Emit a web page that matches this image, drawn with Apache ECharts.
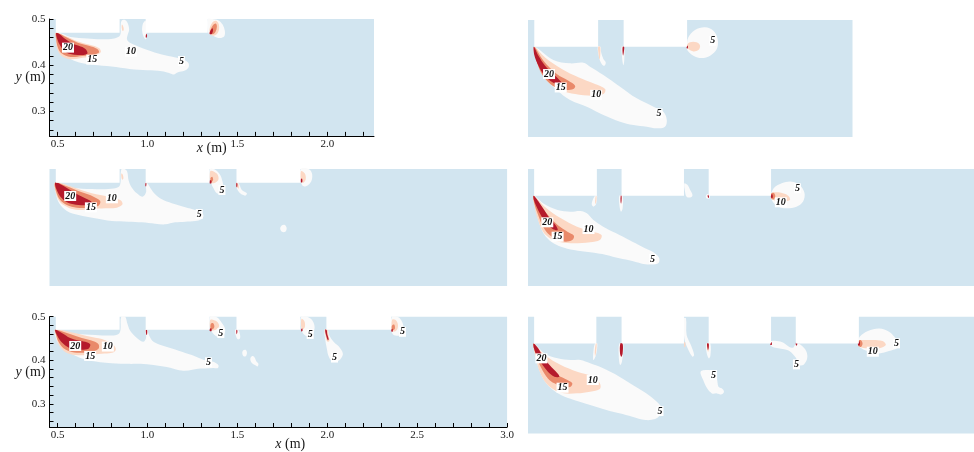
<!DOCTYPE html>
<html>
<head>
<meta charset="utf-8">
<script src="https://cdn.jsdelivr.net/npm/echarts@6/dist/echarts.min.js"></script>
<style>
  html, body { margin: 0; padding: 0; background: #fff; }
  #main { width: 974px; height: 452px; }
</style>
</head>
<body>
<div id="main"></div>
<script>
// ---- axis ticks and labels ----
const yTicks = [0.26, 0.28, 0.30, 0.32, 0.34, 0.36, 0.38, 0.40, 0.42, 0.44, 0.46, 0.48, 0.50];
const yTickLabels = [0.3, 0.4, 0.5];
const xTicksShort = [0.5, 0.6, 0.7, 0.8, 0.9, 1.0, 1.1, 1.2, 1.3, 1.4, 1.5, 1.6, 1.7, 1.8, 1.9, 2.0, 2.1, 2.2];
const xTickLabelsShort = [0.5, 1.0, 1.5, 2.0];
const xTicksLong = [0.5, 0.6, 0.7, 0.8, 0.9, 1.0, 1.1, 1.2, 1.3, 1.4, 1.5, 1.6, 1.7, 1.8, 1.9, 2.0,
                    2.1, 2.2, 2.3, 2.4, 2.5, 2.6, 2.7, 2.8, 2.9, 3.0];
const xTickLabelsLong = [0.5, 1.0, 1.5, 2.0, 2.5, 3.0];

// ---- lid segments [x start, x end] (m) ----
const p1Walls = [[0.49, 0.845], [0.99, 1.335]];
const p2Walls = [[0.49, 0.845], [0.987, 1.34]];
const p3Walls = [[0.49, 0.845], [0.99, 1.345], [1.495, 1.85]];
const p4Walls = [[0.49, 0.848], [0.989, 1.345], [1.486, 1.842]];
const p5Walls = [[0.49, 0.845], [0.99, 1.345], [1.495, 1.85], [1.995, 2.355]];
const p6Walls = [[0.49, 0.845], [0.989, 1.345], [1.486, 1.842], [1.983, 2.343]];

// ---- panel 1 contour bands (>5, >10, >15, >20) ----
const p1Band5 = [
  [[0.494,0.47],[0.497,0.452],[0.52,0.432],[0.56,0.416],[0.62,0.406],[0.70,0.401],[0.80,0.397],[0.90,0.392],[1.0,0.389],[1.08,0.387],[1.12,0.383],[1.145,0.380],[1.17,0.385],[1.205,0.388],[1.228,0.395],[1.228,0.405],[1.2,0.412],[1.15,0.417],[1.08,0.423],[1.0,0.433],[0.945,0.441],[0.9,0.449],[0.886,0.456],[0.89,0.466],[0.898,0.477],[0.89,0.491],[0.875,0.498],[0.856,0.496],[0.851,0.483],[0.848,0.465],[0.815,0.458],[0.74,0.456],[0.665,0.458],[0.571,0.461],[0.524,0.468]],
  [[0.99,0.496],[0.975,0.49],[0.97,0.475],[0.978,0.462],[0.99,0.456],[0.995,0.46]],
  [[1.335,0.5],[1.36,0.5],[1.395,0.497],[1.418,0.488],[1.43,0.475],[1.428,0.463],[1.41,0.459],[1.385,0.46],[1.36,0.465],[1.338,0.47]]
];
const p1Band10 = [
  [[0.49,0.47],[0.54,0.464],[0.61,0.452],[0.68,0.444],[0.73,0.437],[0.74,0.428],[0.70,0.420],[0.64,0.416],[0.57,0.413],[0.52,0.421],[0.497,0.436],[0.49,0.457]],
  [[0.858,0.488],[0.865,0.484],[0.868,0.476],[0.862,0.474],[0.857,0.48]],
  [[1.345,0.478],[1.36,0.492],[1.38,0.496],[1.395,0.49],[1.398,0.478],[1.385,0.467],[1.365,0.464],[1.348,0.468]]
];
const p1Band15 = [
  [[0.4925,0.47],[0.543,0.4616],[0.609,0.4493],[0.674,0.442],[0.721,0.435],[0.730,0.4275],[0.693,0.4225],[0.637,0.420],[0.571,0.418],[0.524,0.4254],[0.502,0.438],[0.492,0.4565]],
  [[1.35,0.474],[1.365,0.487],[1.38,0.49],[1.386,0.483],[1.378,0.472],[1.362,0.467]]
];
const p1Band20 = [
  [[0.4925,0.47],[0.515,0.466],[0.543,0.4565],[0.581,0.447],[0.618,0.442],[0.655,0.435],[0.665,0.425],[0.618,0.422],[0.571,0.424],[0.543,0.429],[0.515,0.442],[0.498,0.4565]],
  [[0.994,0.468],[0.99,0.462],[0.993,0.459],[0.998,0.463]],
  [[1.345,0.468],[1.352,0.476],[1.362,0.48],[1.364,0.474],[1.356,0.467]]
];
const p1Labels = [[0.558,0.438,'20'],[0.693,0.412,'15'],[0.908,0.429,'10'],[1.189,0.409,'5']];

// ---- panel 2 ----
const p2Band5 = [
  [[0.49,0.442],[0.596,0.4134],[0.689,0.4062],[0.763,0.4076],[0.800,0.399],[0.8745,0.381],[0.967,0.3557],[1.060,0.3304],[1.153,0.3124],[1.208,0.3016],[1.227,0.2835],[1.217,0.2691],[1.171,0.2655],[1.1155,0.2691],[1.041,0.2727],[0.967,0.280],[0.8745,0.2944],[0.782,0.3124],[0.689,0.3268],[0.615,0.3485],[0.559,0.370],[0.513,0.399],[0.489,0.4278]],
  [[0.843,0.442],[0.8504,0.419],[0.865,0.4048],[0.880,0.401],[0.8875,0.408],[0.8745,0.4156],[0.8615,0.430],[0.8578,0.442]],
  [[0.976,0.442],[0.978,0.42],[0.985,0.402],[0.99,0.41],[0.99,0.442]],
  [[1.338,0.441],[1.347,0.4625],[1.384,0.4784],[1.440,0.4841],[1.486,0.4769],[1.510,0.4589],[1.505,0.4372],[1.468,0.4228],[1.421,0.4177],[1.375,0.4228],[1.3435,0.4336]]
];
const p2Band10 = [
  [[0.49,0.442],[0.550,0.419],[0.643,0.394],[0.735,0.376],[0.828,0.3615],[0.884,0.3507],[0.8745,0.3398],[0.8096,0.3362],[0.717,0.3398],[0.643,0.347],[0.578,0.3615],[0.5315,0.3831],[0.504,0.412]],
  [[0.845,0.442],[0.848,0.425],[0.853,0.415],[0.857,0.425],[0.856,0.442]],
  [[1.338,0.4444],[1.356,0.4516],[1.393,0.4516],[1.412,0.4444],[1.403,0.435],[1.375,0.432],[1.347,0.437]]
];
const p2Band15 = [
  [[0.49,0.442],[0.541,0.412],[0.615,0.3831],[0.680,0.3687],[0.717,0.3579],[0.7076,0.3506],[0.661,0.3485],[0.615,0.3528],[0.569,0.365],[0.5223,0.3903],[0.498,0.4192]]
];
const p2Band20 = [
  [[0.487,0.442],[0.513,0.4228],[0.550,0.4012],[0.5964,0.3831],[0.6335,0.3687],[0.643,0.3615],[0.615,0.3615],[0.578,0.3687],[0.541,0.3831],[0.513,0.4012],[0.491,0.4228]],
  [[0.982,0.442],[0.981,0.43],[0.984,0.423],[0.988,0.43],[0.99,0.442]],
  [[1.338,0.444],[1.338,0.439],[1.344,0.439],[1.344,0.444]]
];
const p2Labels = [[0.572,0.383,'20'],[0.637,0.354,'15'],[0.834,0.338,'10'],[1.184,0.298,'5'],[1.483,0.455,'5']];

// ---- panel 3 ----
const p3Band5 = [
  [[0.4867,0.47],[0.5145,0.4668],[0.5794,0.4596],[0.6906,0.4567],[0.7832,0.4567],[0.8389,0.461],[0.850,0.47],[0.8537,0.4986],[0.8722,0.5],[0.8871,0.4942],[0.8945,0.4762],[0.9093,0.4618],[0.9408,0.4473],[0.9724,0.4401],[0.9927,0.4509],[0.987,0.4711],[0.9965,0.47],[1.015,0.4596],[1.0427,0.4452],[1.0798,0.4343],[1.1354,0.4257],[1.2096,0.417],[1.2652,0.4113],[1.2986,0.4062],[1.3116,0.399],[1.2986,0.391],[1.2652,0.3874],[1.2096,0.386],[1.1539,0.3846],[1.0983,0.3802],[1.0427,0.3817],[0.9687,0.3846],[0.8945,0.386],[0.8018,0.3874],[0.7091,0.3932],[0.6164,0.4004],[0.5516,0.4091],[0.5089,0.4257],[0.4904,0.4473]],
  [[1.738,0.371],[1.748,0.378],[1.764,0.379],[1.774,0.372],[1.766,0.364],[1.748,0.364]],
  [[1.347,0.5],[1.3765,0.4986],[1.4043,0.487],[1.4173,0.4726],[1.4228,0.4582],[1.4136,0.4473],[1.3857,0.4473],[1.3672,0.4582],[1.3543,0.4704]],
  [[1.4933,0.47],[1.497,0.4582],[1.5155,0.4473],[1.5433,0.4423],[1.5526,0.4473],[1.5248,0.4545],[1.5063,0.469]],
  [[1.853,0.5],[1.8956,0.5],[1.914,0.4913],[1.914,0.4769],[1.8956,0.4661],[1.8678,0.4625],[1.853,0.4726]]
];
const p3Band10 = [
  [[0.4867,0.47],[0.5794,0.4618],[0.6906,0.4473],[0.7832,0.4401],[0.8481,0.4329],[0.8611,0.4235],[0.8296,0.4163],[0.7647,0.4149],[0.6906,0.4134],[0.6164,0.4113],[0.5608,0.4163],[0.5145,0.4278],[0.4904,0.4473]],
  [[0.855,0.49],[0.862,0.488],[0.866,0.48],[0.86,0.477],[0.855,0.482]],
  [[1.35,0.4957],[1.3857,0.49],[1.395,0.4776],[1.3765,0.4704],[1.35,0.4704]],
  [[1.494,0.47],[1.5,0.46],[1.508,0.458],[1.505,0.468]],
  [[1.853,0.495],[1.875,0.49],[1.88,0.478],[1.865,0.47],[1.853,0.475]]
];
const p3Band15 = [
  [[0.4867,0.47],[0.5423,0.4639],[0.635,0.4495],[0.700,0.4401],[0.737,0.4307],[0.7276,0.4206],[0.672,0.4163],[0.6072,0.4163],[0.5516,0.4221],[0.5145,0.4329],[0.4922,0.4509]],
  [[1.35,0.48],[1.36,0.483],[1.365,0.476],[1.355,0.472]]
];
const p3Band20 = [
  [[0.4867,0.47],[0.5237,0.4654],[0.570,0.4545],[0.6164,0.4437],[0.6628,0.4351],[0.6906,0.4278],[0.672,0.4221],[0.6164,0.4221],[0.5608,0.4264],[0.5237,0.4365],[0.4978,0.4524]],
  [[0.99,0.47],[0.988,0.464],[0.992,0.462],[0.994,0.469]],
  [[1.346,0.475],[1.355,0.475],[1.355,0.469],[1.346,0.469]],
  [[1.495,0.47],[1.494,0.462],[1.498,0.46],[1.5,0.468]],
  [[1.853,0.478],[1.86,0.479],[1.861,0.472],[1.854,0.471]]
];
const p3Labels = [[0.570,0.4416,'20'],[0.6852,0.417,'15'],[0.8018,0.4365,'10'],[1.2875,0.4026,'5'],[1.414,0.4545,'5']];

// ---- panel 4 ----
const p4Band5 = [
  [[0.487,0.442],[0.550,0.4235],[0.624,0.4113],[0.698,0.4076],[0.754,0.4091],[0.791,0.404],[0.828,0.3896],[0.884,0.3752],[0.958,0.3608],[1.032,0.3463],[1.106,0.3319],[1.171,0.3196],[1.2026,0.308],[1.2026,0.298],[1.1897,0.2943],[1.1248,0.2937],[1.0506,0.3009],[0.9765,0.3066],[0.9023,0.3139],[0.8096,0.3196],[0.717,0.3247],[0.643,0.3319],[0.587,0.3427],[0.55,0.3571],[0.5223,0.3788],[0.5037,0.404],[0.4907,0.4257]],
  [[0.8374,0.442],[0.8244,0.4329],[0.8189,0.4235],[0.8281,0.4185],[0.843,0.4235],[0.8485,0.4365],[0.8485,0.442]],
  [[0.9765,0.442],[0.9765,0.4221],[0.9857,0.4076],[0.995,0.4149],[0.995,0.442]],
  [[1.3473,0.469],[1.3658,0.4654],[1.3806,0.4545],[1.3936,0.4437],[1.3843,0.4387],[1.3602,0.4401],[1.351,0.4509]],
  [[1.47,0.442],[1.478,0.446],[1.49,0.4445],[1.492,0.437],[1.482,0.435],[1.472,0.437]],
  [[1.842,0.442],[1.857,0.4582],[1.903,0.469],[1.959,0.4726],[2.005,0.4654],[2.033,0.4473],[2.024,0.4293],[1.987,0.4185],[1.931,0.4149],[1.885,0.4185],[1.8515,0.4293]]
];
const p4Band10 = [
  [[0.487,0.442],[0.550,0.4185],[0.643,0.3932],[0.735,0.3752],[0.828,0.3644],[0.8745,0.3571],[0.8652,0.3463],[0.8096,0.3413],[0.717,0.3391],[0.643,0.3413],[0.587,0.3485],[0.541,0.3644],[0.5093,0.3932],[0.4907,0.4221]],
  [[0.842,0.442],[0.838,0.43],[0.84,0.424],[0.845,0.43],[0.846,0.442]],
  [[1.842,0.4473],[1.885,0.4495],[1.94,0.4423],[1.9495,0.4329],[1.903,0.4293],[1.857,0.4329]]
];
const p4Band15 = [
  [[0.487,0.442],[0.5223,0.4221],[0.5686,0.4004],[0.624,0.3788],[0.680,0.3644],[0.717,0.3557],[0.7076,0.3463],[0.6706,0.3427],[0.624,0.3463],[0.578,0.3571],[0.541,0.3752],[0.513,0.4004],[0.4907,0.4257]],
  [[1.843,0.447],[1.858,0.448],[1.866,0.441],[1.857,0.434],[1.843,0.436]]
];
const p4Band20 = [
  [[0.487,0.442],[0.513,0.4308],[0.541,0.4149],[0.578,0.3932],[0.615,0.3773],[0.624,0.368],[0.596,0.3702],[0.559,0.3824],[0.5278,0.4004],[0.504,0.4185],[0.489,0.4322]],
  [[0.984,0.442],[0.983,0.43],[0.986,0.425],[0.989,0.432],[0.989,0.442]],
  [[1.48,0.442],[1.484,0.444],[1.488,0.44],[1.484,0.437]],
  [[1.843,0.445],[1.85,0.445],[1.851,0.438],[1.843,0.438]]
];
const p4Labels = [[0.565,0.3846,'20'],[0.624,0.3535,'15'],[0.8003,0.370,'10'],[1.1656,0.3052,'5'],[1.9924,0.4582,'5'],[1.8979,0.4279,'10']];

// ---- panel 5 ----
const p5Band5 = [
  [[0.4867,0.47],[0.5237,0.4669],[0.598,0.4611],[0.7091,0.4582],[0.8018,0.4568],[0.8389,0.4604],[0.850,0.47],[0.8537,0.5],[0.876,0.5],[0.8871,0.4856],[0.9038,0.4676],[0.9408,0.451],[0.9779,0.4423],[0.9927,0.4532],[0.987,0.47],[0.9982,0.47],[1.0093,0.4568],[1.0334,0.4423],[1.099,0.4315],[1.1726,0.4221],[1.2468,0.412],[1.293,0.404],[1.33,0.399],[1.37,0.396],[1.395,0.3882],[1.39,0.382],[1.367,0.3825],[1.32,0.381],[1.293,0.381],[1.2,0.3759],[1.108,0.3846],[0.96,0.3918],[0.90,0.3918],[0.80,0.3935],[0.737,0.3954],[0.644,0.4027],[0.5516,0.4207],[0.5145,0.4337],[0.4922,0.4496]],
  [[1.347,0.5],[1.3857,0.4986],[1.4136,0.4856],[1.432,0.4712],[1.4228,0.4568],[1.395,0.4532],[1.3672,0.4604],[1.3543,0.4698]],
  [[1.4875,0.47],[1.4912,0.4568],[1.5023,0.4481],[1.5153,0.451],[1.5116,0.464],[1.5023,0.47]],
  [[1.527,0.417],[1.533,0.423],[1.545,0.424],[1.553,0.418],[1.548,0.41],[1.535,0.409]],
  [[1.572,0.404],[1.582,0.41],[1.593,0.408],[1.605,0.398],[1.617,0.392],[1.612,0.386],[1.598,0.389],[1.585,0.392],[1.575,0.397]],
  [[1.8547,0.5],[1.8862,0.5],[1.9141,0.4929],[1.9289,0.4784],[1.9234,0.464],[1.9048,0.4553],[1.877,0.4568],[1.8584,0.4676]],
  [[1.985,0.47],[1.988,0.4496],[1.997,0.4279],[2.007,0.4099],[2.025,0.399],[2.062,0.399],[2.0866,0.4135],[2.0717,0.4279],[2.035,0.4423],[2.011,0.4568],[2.003,0.47]],
  [[2.359,0.5],[2.396,0.4986],[2.4185,0.4856],[2.424,0.4712],[2.411,0.4582],[2.3777,0.4568],[2.359,0.464]]
];
const p5Band10 = [
  [[0.4867,0.47],[0.5794,0.464],[0.6906,0.4532],[0.7647,0.446],[0.8111,0.4351],[0.8241,0.4243],[0.8018,0.4171],[0.746,0.415],[0.672,0.4121],[0.598,0.4121],[0.5423,0.4193],[0.5089,0.4337],[0.4904,0.4568]],
  [[1.35,0.4929],[1.3857,0.4892],[1.3987,0.4784],[1.3802,0.4698],[1.35,0.4698]],
  [[1.856,0.495],[1.872,0.49],[1.876,0.478],[1.866,0.471],[1.856,0.473]],
  [[1.986,0.47],[1.99,0.455],[2.0,0.443],[2.012,0.445],[2.006,0.46],[2.002,0.47]],
  [[2.36,0.4929],[2.378,0.4929],[2.392,0.484],[2.39,0.472],[2.375,0.466],[2.36,0.468]]
];
const p5Band15 = [
  [[0.4867,0.47],[0.5516,0.4626],[0.635,0.451],[0.6998,0.4438],[0.7276,0.4366],[0.7276,0.4265],[0.6906,0.4193],[0.635,0.4171],[0.5794,0.4193],[0.533,0.4279],[0.5052,0.4423],[0.4904,0.4604]],
  [[1.352,0.483],[1.365,0.485],[1.372,0.477],[1.362,0.471],[1.352,0.472]],
  [[2.36,0.48],[2.372,0.482],[2.376,0.473],[2.365,0.469],[2.358,0.472]]
];
const p5Band20 = [
  [[0.4867,0.47],[0.5237,0.4626],[0.570,0.451],[0.6164,0.4453],[0.6535,0.4423],[0.6813,0.4366],[0.672,0.4265],[0.635,0.4243],[0.5887,0.425],[0.5516,0.4315],[0.5201,0.4423],[0.4978,0.4568]],
  [[0.991,0.47],[0.993,0.46],[0.997,0.458],[0.998,0.469]],
  [[1.346,0.472],[1.355,0.473],[1.356,0.467],[1.347,0.467]],
  [[1.495,0.47],[1.494,0.463],[1.497,0.46],[1.5,0.468]],
  [[1.855,0.472],[1.861,0.473],[1.862,0.467],[1.856,0.466]],
  [[1.988,0.47],[1.9935,0.4568],[2.003,0.446],[2.008,0.448],[2.0,0.46],[1.996,0.47]],
  [[2.357,0.471],[2.363,0.472],[2.364,0.466],[2.357,0.466]]
];
const p5Labels = [[0.598,0.4329,'20'],[0.6813,0.41,'15'],[0.7795,0.4315,'10'],[1.3395,0.3954,'5'],[1.4081,0.4625,'5'],[1.9048,0.4604,'5'],[2.0402,0.4063,'5'],[2.418,0.4654,'5']];

// ---- panel 6 ----
const p6Band5 = [
  [[0.487,0.442],[0.55,0.4206],[0.6242,0.4098],[0.6984,0.4062],[0.754,0.4062],[0.8096,0.399],[0.8838,0.3882],[0.9765,0.3701],[1.0691,0.3485],[1.1433,0.3304],[1.1989,0.3124],[1.2175,0.3016],[1.2082,0.2872],[1.1804,0.2785],[1.1248,0.2763],[1.0506,0.2835],[0.9765,0.2908],[0.9023,0.298],[0.8096,0.3088],[0.7169,0.3196],[0.6428,0.3304],[0.5871,0.3449],[0.5408,0.3665],[0.513,0.3918],[0.4944,0.4206]],
  [[0.8374,0.442],[0.8281,0.4242],[0.8281,0.4062],[0.843,0.417],[0.8504,0.442]],
  [[0.9765,0.442],[0.9727,0.417],[0.9802,0.3954],[0.991,0.4026],[0.9987,0.442]],
  [[1.3435,0.4964],[1.3565,0.4964],[1.3602,0.4603],[1.3843,0.4387],[1.403,0.417],[1.3936,0.4134],[1.3658,0.4315],[1.347,0.4531]],
  [[1.4733,0.442],[1.4733,0.4242],[1.4863,0.4098],[1.4955,0.4149],[1.4955,0.442]],
  [[1.44,0.381],[1.477,0.3846],[1.514,0.381],[1.5326,0.3665],[1.5419,0.3485],[1.5604,0.3449],[1.5734,0.3377],[1.5604,0.3319],[1.5326,0.334],[1.5048,0.334],[1.477,0.3449],[1.4548,0.3629]],
  [[1.836,0.446],[1.8756,0.4473],[1.9127,0.4437],[1.9442,0.4351],[1.9683,0.4329],[1.9813,0.4401],[1.996,0.442],[2.0239,0.4351],[2.0443,0.4242],[2.048,0.4098],[2.0295,0.3968],[1.996,0.3954],[1.9906,0.4062],[1.972,0.4166],[1.9386,0.4272],[1.8756,0.432],[1.844,0.436]],
  [[2.339,0.442],[2.348,0.4567],[2.395,0.469],[2.4596,0.4747],[2.5152,0.4675],[2.5523,0.4531],[2.5708,0.4387],[2.5615,0.4315],[2.5152,0.4257],[2.4596,0.4206],[2.404,0.4242],[2.3569,0.4315]]
];
const p6Band10 = [
  [[0.487,0.442],[0.55,0.417],[0.6428,0.3954],[0.7354,0.381],[0.8281,0.3701],[0.8652,0.3557],[0.8652,0.3434],[0.8096,0.3377],[0.7354,0.3341],[0.6613,0.3341],[0.6057,0.3413],[0.5593,0.3557],[0.5223,0.381],[0.4981,0.4134]],
  [[0.842,0.442],[0.836,0.425],[0.838,0.415],[0.844,0.425],[0.847,0.442]],
  [[1.346,0.444],[1.352,0.444],[1.353,0.436],[1.347,0.434]],
  [[1.477,0.442],[1.477,0.43],[1.483,0.424],[1.487,0.43],[1.487,0.442]],
  [[2.339,0.4473],[2.404,0.4495],[2.478,0.4473],[2.4967,0.4387],[2.4596,0.4315],[2.395,0.4315],[2.348,0.4351]]
];
const p6Band15 = [
  [[0.487,0.442],[0.5223,0.417],[0.5686,0.3918],[0.624,0.3737],[0.6798,0.3629],[0.7076,0.3557],[0.6984,0.3485],[0.652,0.3485],[0.6057,0.3557],[0.5686,0.3665],[0.5315,0.3882],[0.5037,0.4134],[0.4889,0.4315]],
  [[2.34,0.448],[2.355,0.449],[2.364,0.442],[2.356,0.435],[2.342,0.436]]
];
const p6Band20 = [
  [[0.487,0.442],[0.513,0.4315],[0.541,0.4134],[0.578,0.3954],[0.624,0.3773],[0.6335,0.3701],[0.6057,0.3701],[0.5686,0.381],[0.5315,0.399],[0.5037,0.417],[0.4889,0.4315]],
  [[0.982,0.442],[0.9802,0.4206],[0.9876,0.4134],[0.995,0.4206],[0.995,0.442]],
  [[1.477,0.442],[1.479,0.432],[1.482,0.428],[1.486,0.432],[1.486,0.442]],
  [[1.838,0.444],[1.846,0.444],[1.846,0.439],[1.838,0.439]],
  [[1.984,0.444],[1.991,0.444],[1.99,0.438],[1.984,0.438]],
  [[2.339,0.446],[2.348,0.446],[2.348,0.438],[2.339,0.438]]
];
const p6Labels = [[0.5315,0.4098,'20'],[0.652,0.3463,'15'],[0.8244,0.3629,'10'],[1.2082,0.2958,'5'],[1.5141,0.3737,'5'],[1.9868,0.3968,'5'],[2.4225,0.4242,'10'],[2.5578,0.4423,'5']];

// ---- styling ----
const WATER = '#d2e5f0';
const BAND_COLORS = ['#fafafa', '#fcd8c4', '#e9896a', '#b51a2c'];
const SERIF = '"Liberation Serif", "Times New Roman", serif';
const Y_MIN = 0.247, Y_MAX = 0.5, X_MIN = 0.455;

const panels = [
  { box: { left: 49.5, top: 19, width: 324.5 }, xMax: 2.26, lid: 0.47, walls: p1Walls,
    bands: [p1Band5, p1Band10, p1Band15, p1Band20], labels: p1Labels,
    axes: { ticks: xTicksShort, labels: xTickLabelsShort, namePad: 0, nameGap: 5 } },
  { box: { left: 528, top: 20, width: 324.5 }, xMax: 2.26, lid: 0.442, walls: p2Walls,
    bands: [p2Band5, p2Band10, p2Band15, p2Band20], labels: p2Labels },
  { box: { left: 49.5, top: 169, width: 457.6 }, xMax: 3.0, lid: 0.47, walls: p3Walls,
    bands: [p3Band5, p3Band10, p3Band15, p3Band20], labels: p3Labels },
  { box: { left: 528, top: 169, width: 457.6 }, xMax: 3.0, lid: 0.442, walls: p4Walls,
    bands: [p4Band5, p4Band10, p4Band15, p4Band20], labels: p4Labels },
  { box: { left: 49.5, top: 316.7, width: 457.6 }, xMax: 3.0, lid: 0.47, walls: p5Walls,
    bands: [p5Band5, p5Band10, p5Band15, p5Band20], labels: p5Labels,
    axes: { ticks: xTicksLong, labels: xTickLabelsLong, namePad: 24, nameGap: 10 } },
  { box: { left: 528, top: 316.7, width: 457.6 }, xMax: 3.0, lid: 0.442, walls: p6Walls,
    bands: [p6Band5, p6Band10, p6Band15, p6Band20], labels: p6Labels }
];

const grids = [], xAxes = [], yAxes = [], series = [];

panels.forEach((p, k) => {
  grids.push({
    left: p.box.left, top: p.box.top, width: p.box.width, height: (Y_MAX - Y_MIN) * 462,
    show: true, backgroundColor: WATER, borderWidth: 0
  });

  if (p.axes) {
    xAxes.push({
      gridIndex: k, type: 'value', min: X_MIN, max: p.xMax,
      axisLine: { show: true, onZero: false, lineStyle: { color: '#000', width: 1 } },
      axisTick: { show: true, inside: true, length: 4, customValues: p.axes.ticks, lineStyle: { color: '#000' } },
      axisLabel: { customValues: p.axes.labels, formatter: v => v.toFixed(1), color: '#1a1a1a',
                   fontFamily: SERIF, fontSize: 11, margin: 3 },
      splitLine: { show: false },
      name: '{i|x} (m)', nameLocation: 'middle', nameGap: p.axes.nameGap, nameMoveOverlap: false,
      nameTextStyle: { fontFamily: SERIF, fontSize: 14, color: '#1a1a1a', padding: [0, 0, 0, p.axes.namePad],
                       rich: { i: { fontStyle: 'italic', fontFamily: SERIF, fontSize: 14, color: '#1a1a1a' } } }
    });
    yAxes.push({
      gridIndex: k, type: 'value', min: Y_MIN, max: Y_MAX,
      axisLine: { show: true, onZero: false, lineStyle: { color: '#000', width: 1 } },
      axisTick: { show: true, inside: true, length: 4, customValues: yTicks, lineStyle: { color: '#000' } },
      axisLabel: { customValues: yTickLabels, formatter: v => v.toFixed(1), color: '#1a1a1a',
                   fontFamily: SERIF, fontSize: 11, margin: 4 },
      splitLine: { show: false },
      name: '{i|y} (m)', nameLocation: 'middle', nameRotate: 0, nameGap: 4, nameMoveOverlap: false,
      nameTextStyle: { fontFamily: SERIF, fontSize: 14, color: '#1a1a1a', align: 'right',
                       rich: { i: { fontStyle: 'italic', fontFamily: SERIF, fontSize: 14, color: '#1a1a1a' } } }
    });
  } else {
    xAxes.push({ gridIndex: k, type: 'value', min: X_MIN, max: p.xMax, show: false, splitLine: { show: false } });
    yAxes.push({ gridIndex: k, type: 'value', min: Y_MIN, max: Y_MAX, show: false, splitLine: { show: false } });
  }

  // filled contour bands, lowest level first
  p.bands.forEach((polys, level) => {
    series.push({
      type: 'custom', xAxisIndex: k, yAxisIndex: k, silent: true, animation: false,
      data: polys.map(poly => poly[0]),
      renderItem: (params, api) => {
        const pts = polys[params.dataIndex].map(pt => api.coord(pt));
        return { type: 'polygon', shape: { points: pts, smooth: 0.35 }, style: { fill: BAND_COLORS[level] } };
      }
    });
  });

  // solid lid segments above the channel
  series.push({
    type: 'custom', xAxisIndex: k, yAxisIndex: k, silent: true, animation: false,
    data: p.walls.map(w => [w[0], p.lid]),
    renderItem: (params, api) => {
      const w = p.walls[params.dataIndex];
      const a = api.coord([w[0], Y_MAX]);
      const b = api.coord([w[1], p.lid]);
      return { type: 'rect', shape: { x: a[0], y: a[1] - 1, width: b[0] - a[0], height: b[1] - a[1] + 1 },
               style: { fill: '#ffffff' } };
    }
  });

  // contour level labels
  series.push({
    type: 'custom', xAxisIndex: k, yAxisIndex: k, silent: true, animation: false,
    data: p.labels.map(l => [l[0], l[1]]),
    renderItem: (params, api) => {
      const l = p.labels[params.dataIndex];
      const c = api.coord([l[0], l[1]]);
      return { type: 'text', x: c[0], y: c[1],
               style: { text: l[2], font: 'italic bold 10px ' + SERIF, fill: '#111',
                        align: 'center', verticalAlign: 'middle', backgroundColor: '#ffffff', padding: [0, 1, 0, 1] } };
    }
  });
});

const chart = echarts.init(document.getElementById('main'), null, { renderer: 'canvas' });
chart.setOption({
  backgroundColor: '#ffffff',
  animation: false,
  grid: grids, xAxis: xAxes, yAxis: yAxes, series: series
});
</script>
</body>
</html>
